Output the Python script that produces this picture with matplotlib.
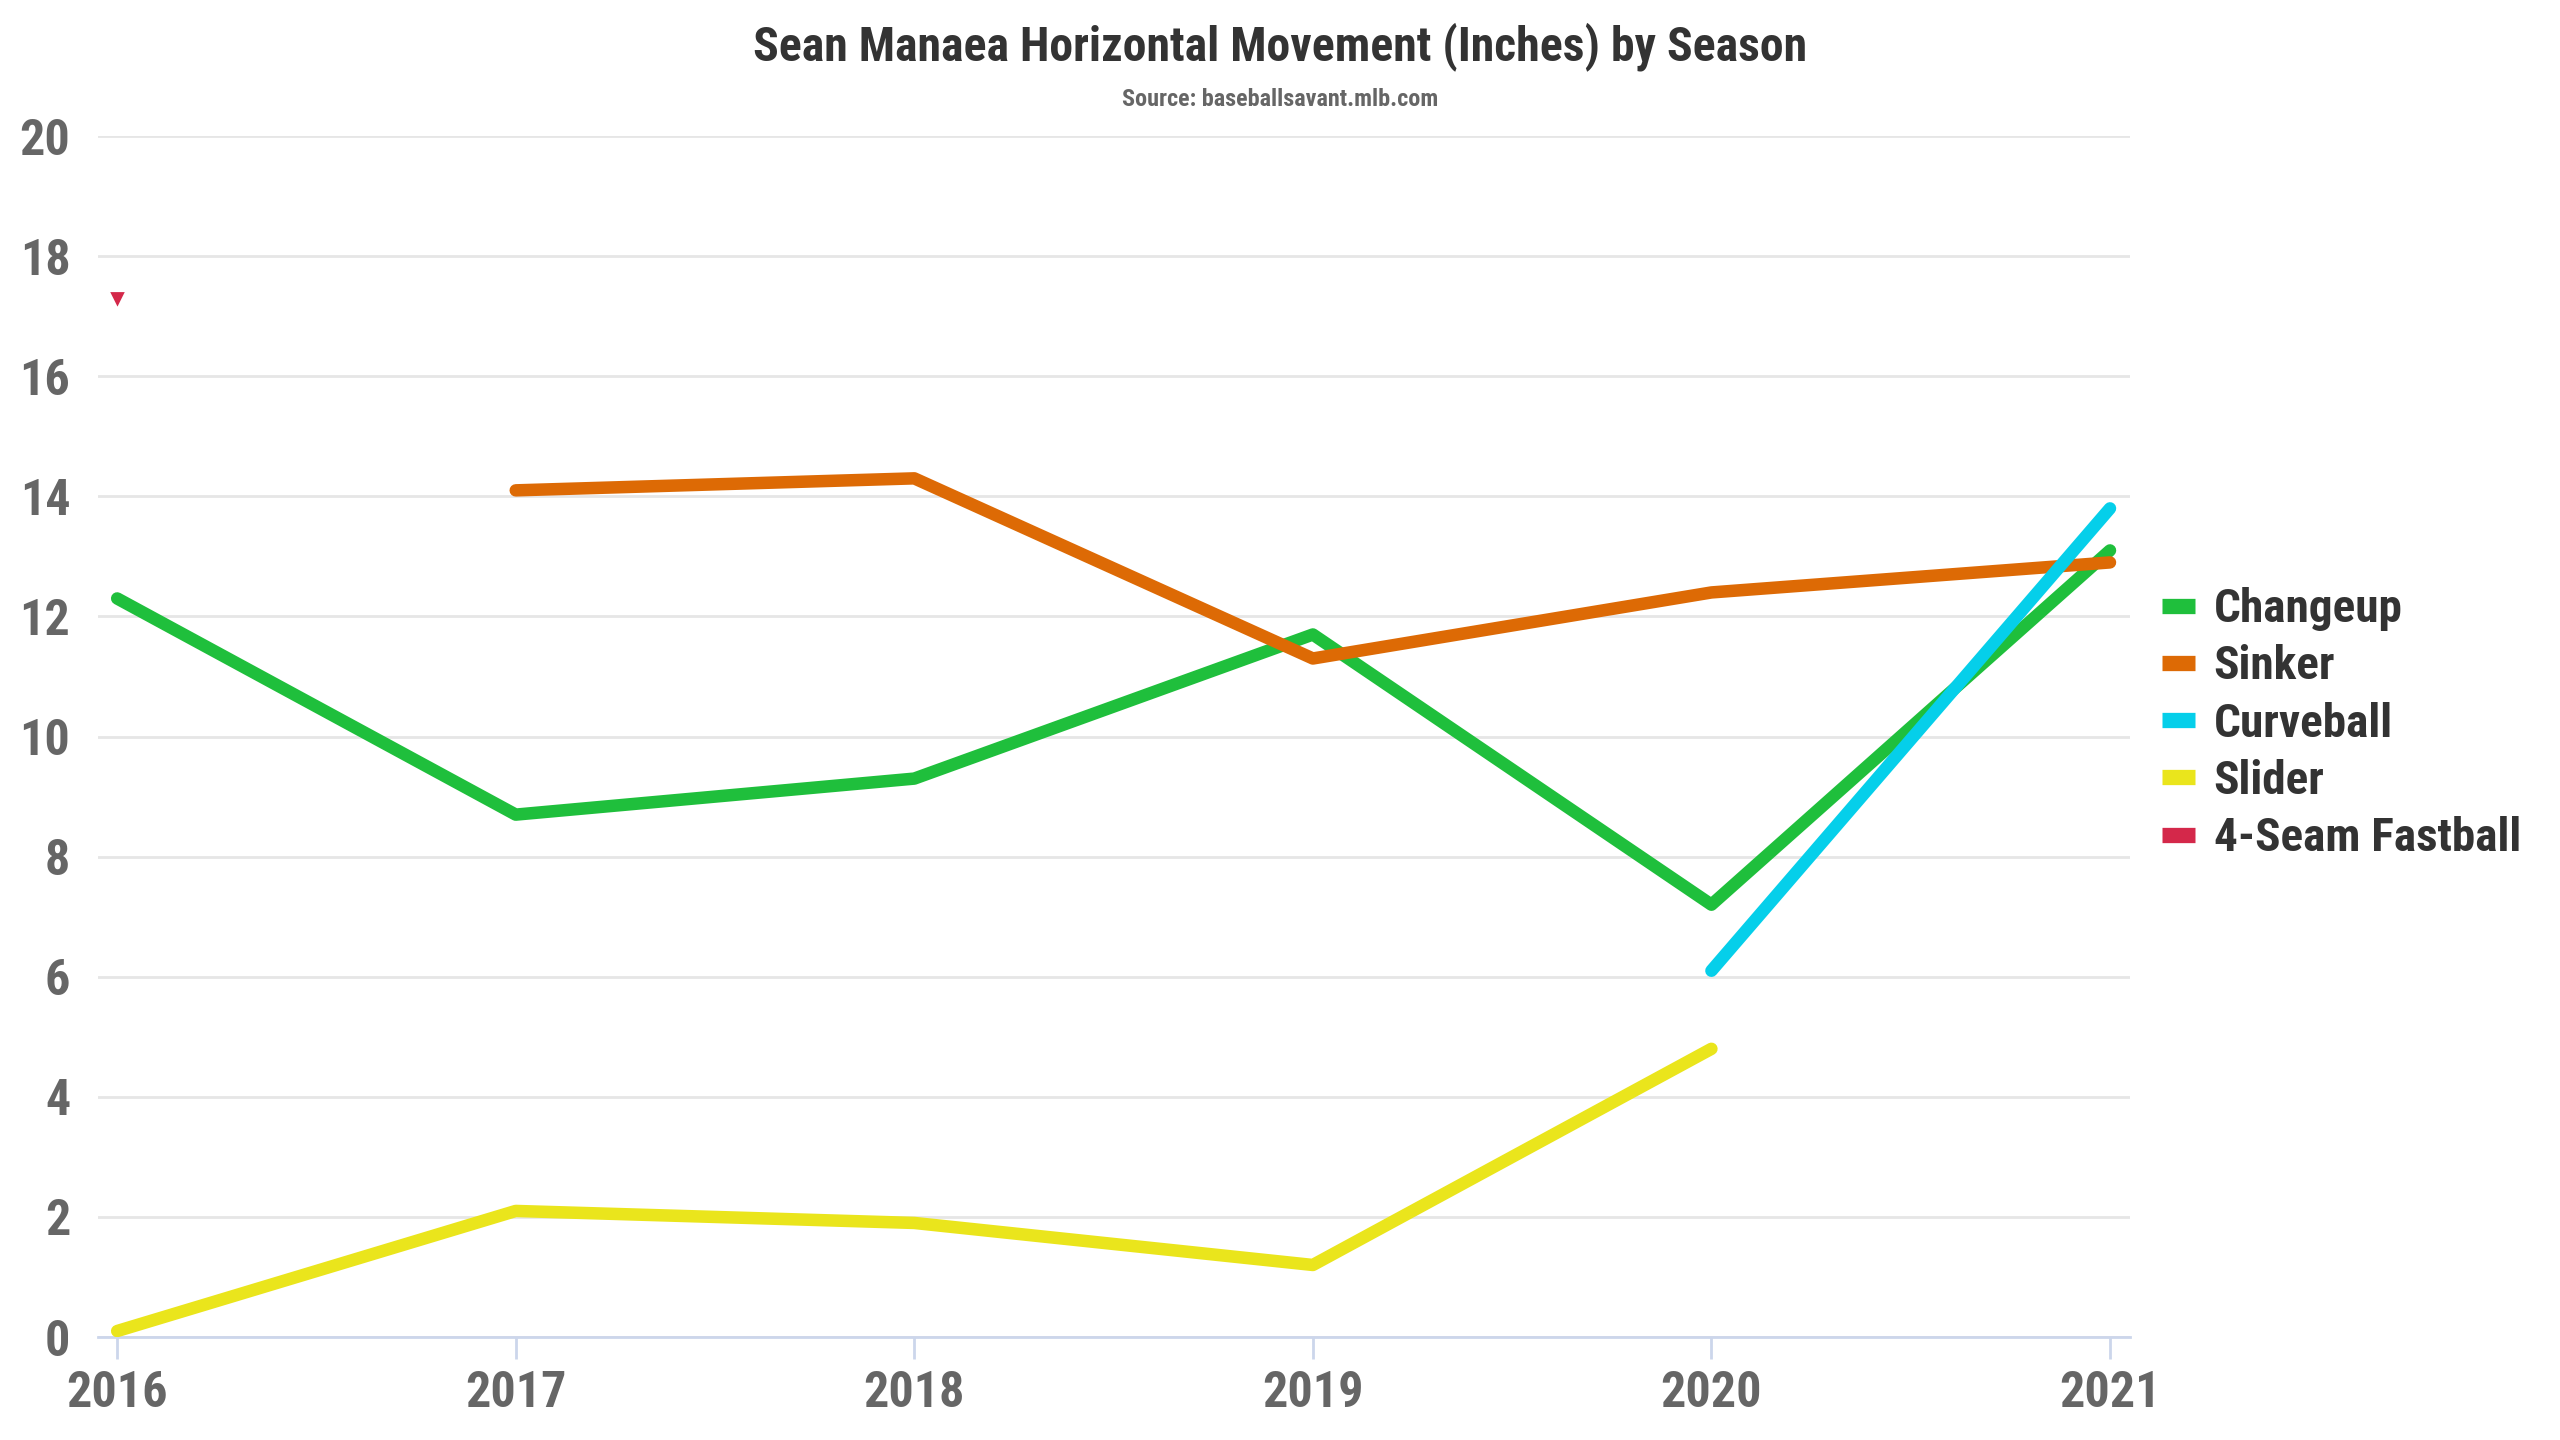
import matplotlib
matplotlib.use("Agg")
import matplotlib.pyplot as plt
from matplotlib import font_manager
from matplotlib.lines import Line2D

seasons = [2016, 2017, 2018, 2019, 2020, 2021]

changeup = [12.3, 8.7, 9.3, 11.7, 7.2, 13.1]
sinker = [None, 14.1, 14.3, 11.3, 12.4, 12.9]
curveball = [None, None, None, None, 6.1, 13.8]
slider = [0.1, 2.1, 1.9, 1.2, 4.8, None]
fastball = [17.3, None, None, None, None, None]

names = ["Changeup", "Sinker", "Curveball", "Slider", "4-Seam Fastball"]
colors = ["#1fbf3c", "#dd6a05", "#05cfea", "#eae51c", "#d4284a"]

# pick a condensed face if one is there
installed = {f.name for f in font_manager.fontManager.ttflist}
family = "Roboto"
for cand in ["Roboto Condensed", "Liberation Sans Narrow", "Roboto"]:
    if cand in installed:
        family = cand
        break
plt.rcParams['font.family'] = [family, 'DejaVu Sans']


def pts(vals):
    xs = [s for s, v in zip(seasons, vals) if v is not None]
    ys = [v for v in vals if v is not None]
    return xs, ys


fig = plt.figure(figsize=(12.8, 7.2), dpi=200)
ax = fig.add_axes([0.0383, 0.0715, 0.7937, 0.834])

series = [changeup, sinker, curveball, slider]
for vals, c in zip(series, colors[:4]):
    xs, ys = pts(vals)
    ax.plot(xs, ys, color=c, lw=4.5, solid_capstyle='round',
            solid_joinstyle='round', zorder=3)

xs, ys = pts(fastball)
ax.plot(xs, ys, ls='none', marker='v', ms=3.5, color=colors[4], zorder=4)

ax.set_xlim(2015.952, 2021.05)
ax.set_ylim(0, 20)
ax.set_xticks(seasons)
ax.set_yticks(range(0, 21, 2))
ax.grid(axis='y', color='#e6e6e6', lw=1.0, zorder=0)
for side in ['top', 'right', 'left']:
    ax.spines[side].set_visible(False)
ax.spines['bottom'].set_color('#ccd6eb')
ax.spines['bottom'].set_linewidth(1.0)
ax.tick_params(axis='x', colors='#ccd6eb', length=8, width=1.0, pad=4,
               labelcolor='#666666', labelsize=18)
ax.tick_params(axis='y', length=0, pad=10, labelcolor='#666666', labelsize=18)
for lab in ax.get_xticklabels() + ax.get_yticklabels():
    lab.set_fontweight('bold')

fig.text(0.5, 0.968, "Sean Manaea Horizontal Movement (Inches) by Season",
         ha='center', va='center', fontsize=17.2, fontweight='bold', color='#333333')
fig.text(0.5, 0.931, "Source: baseballsavant.mlb.com", ha='center', va='center',
         fontsize=8.7, fontweight='bold', color='#666666')

handles = [Line2D([0], [0], color=c, lw=5.5, solid_capstyle='butt') for c in colors]
leg = fig.legend(handles, names, loc='center left', bbox_to_anchor=(0.837, 0.4975),
                 frameon=False, fontsize=17, handlelength=0.7, handletextpad=0.4,
                 labelspacing=0.28, borderaxespad=0)
for t in leg.get_texts():
    t.set_fontweight('bold')
    t.set_color('#333333')

fig.savefig("out.png", dpi=200, facecolor='white')
